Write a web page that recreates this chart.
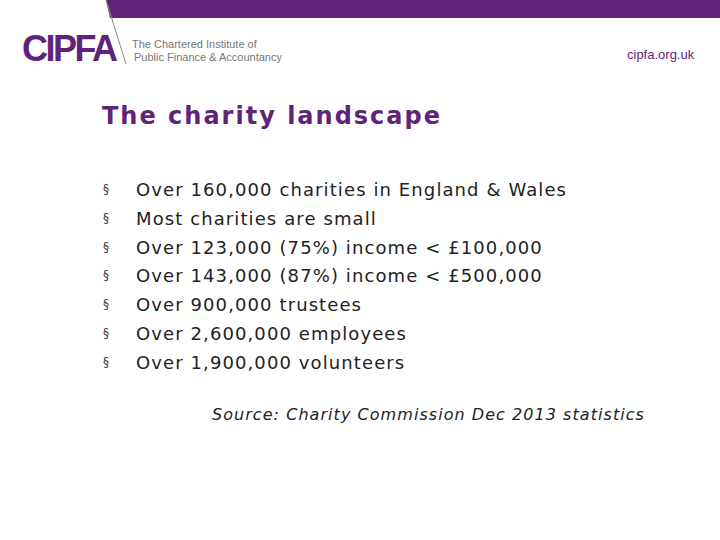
<!DOCTYPE html>
<html><head><meta charset="utf-8">
<script src="https://cdn.jsdelivr.net/npm/chart.js@4"></script>
<style>
body{margin:0;width:720px;height:540px;background:#fff;position:relative;overflow:hidden;font-family:"DejaVu Sans",Verdana,sans-serif;}
.t{position:absolute;white-space:nowrap}
</style></head><body>
<svg width="720" height="540" style="position:absolute;left:0;top:0">
<polygon points="106,0 720,0 720,18 110,18" fill="#5f2479"/>
<line x1="106" y1="0" x2="126" y2="64" stroke="#888" stroke-width="1"/>
</svg>
<div id="root"></div>
<script>
const logo = "CIPFA";
const logoSub = ["The Chartered Institute of", "Public Finance & Accountancy"];
const site = "cipfa.org.uk";
const title = "The charity landscape";
const bullets = [
 "Over 160,000 charities in England & Wales",
 "Most charities are small",
 "Over 123,000 (75%) income < £100,000",
 "Over 143,000 (87%) income < £500,000",
 "Over 900,000 trustees",
 "Over 2,600,000 employees",
 "Over 1,900,000 volunteers"
];
const source = "Source: Charity Commission Dec 2013 statistics";
const r=document.getElementById('root');
function add(txt,css){const d=document.createElement('div');d.className='t';d.textContent=txt;d.style.cssText=css;r.appendChild(d);}
add(logo,"left:22px;top:27px;font-family:'Liberation Sans',Arial;font-weight:bold;font-size:36px;color:#5f2479;letter-spacing:-2.5px;transform:scaleY(1.05)");
add(logoSub[0],"left:132px;top:38px;font-family:'Liberation Sans';font-size:11px;color:#777");
add(logoSub[1],"left:134px;top:51px;font-family:'Liberation Sans';font-size:11px;color:#777");
add(site,"left:627px;top:47px;font-family:'Liberation Sans';font-size:13px;color:#5f2479");
add(title,"left:102px;top:102px;font-weight:bold;font-size:24px;letter-spacing:2px;color:#5f2479");
bullets.forEach((b,i)=>{const y=179+i*28.8;
 add("§","left:103px;top:"+(y+3)+"px;font-size:12px;color:#444");
 add(b,"left:136px;top:"+y+"px;font-size:18px;letter-spacing:1.1px;color:#222");});
add(source,"left:212px;top:405px;font-size:16px;letter-spacing:1.05px;font-style:italic;color:#222");
</script>
</body></html>
